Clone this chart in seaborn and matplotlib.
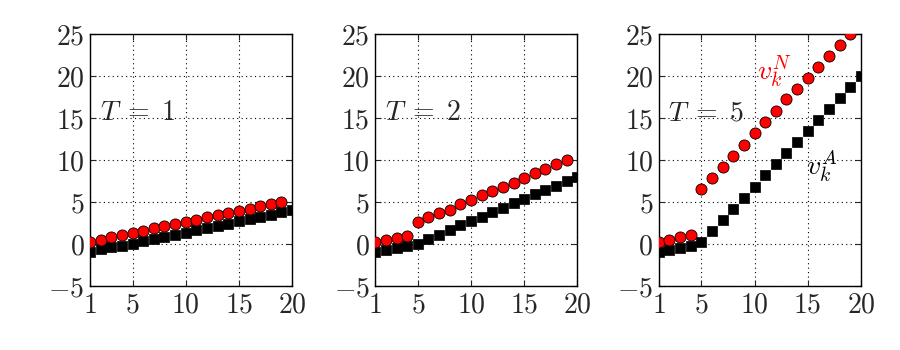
import matplotlib
matplotlib.use('Agg')
import matplotlib.pyplot as plt
import seaborn as sns

# step index k
k_a = list(range(1, 21))
k_n = list(range(1, 20))

# values, one pair of series per panel
va_T1 = [-0.9, -0.6, -0.4, -0.2, 0.05, 0.35, 0.6, 0.85, 1.1, 1.35, 1.65, 1.9, 2.15, 2.4, 2.7, 3.0, 3.25, 3.5, 3.75, 4.0]
vn_T1 = [0.28, 0.5, 0.8, 1.05, 1.35, 1.6, 1.85, 2.15, 2.4, 2.65, 2.9, 3.15, 3.45, 3.7, 3.95, 4.2, 4.5, 4.75, 5.0]

va_T2 = [-1.0, -0.75, -0.5, -0.28, 0.0, 0.55, 1.1, 1.65, 2.2, 2.75, 3.2, 3.8, 4.3, 4.85, 5.3, 5.95, 6.4, 6.95, 7.5, 8.0]
vn_T2 = [0.2, 0.45, 0.75, 1.0, 2.6, 3.15, 3.65, 4.1, 4.7, 5.2, 5.8, 6.3, 6.75, 7.3, 7.8, 8.4, 8.9, 9.5, 10.0]

va_T5 = [-0.95, -0.67, -0.44, -0.24, 0.28, 1.6, 2.9, 4.2, 5.5, 6.8, 8.2, 9.5, 10.8, 12.1, 13.45, 14.75, 16.1, 17.4, 18.7, 20.0]
vn_T5 = [0.28, 0.5, 0.83, 1.07, 6.55, 7.9, 9.2, 10.5, 11.8, 13.2, 14.5, 15.85, 17.2, 18.5, 19.8, 21.05, 22.4, 23.7, 25.0]

T_labels = [r'$T\;=\;1$', r'$T\;=\;2$', r'$T\;=\;5$']
xticks = [1, 5, 10, 15, 20]
yticks = [-5, 0, 5, 10, 15, 20, 25]

sns.set_style('white')
plt.rcParams['mathtext.fontset'] = 'cm'
plt.rcParams['font.family'] = ['DejaVu Serif']

fig = plt.figure(figsize=(9, 3.5), dpi=100)
lefts = [0.100, 0.417, 0.732]
panels = [(va_T1, vn_T1), (va_T2, vn_T2), (va_T5, vn_T5)]

for i, (va, vn) in enumerate(panels):
    ax = fig.add_axes([lefts[i], 0.183, 0.2245, 0.72])
    sns.scatterplot(x=k_a, y=va, marker='s', color='black', edgecolor='black',
                    s=56, linewidth=0.5, ax=ax, zorder=3)
    sns.scatterplot(x=k_n, y=vn, marker='o', color='red', edgecolor='black',
                    s=64, linewidth=0.6, ax=ax, zorder=4)
    ax.set_xlim(1, 20)
    ax.set_ylim(-5, 25)
    ax.set_xticks(xticks, labels=[f'${t}$' for t in xticks])
    ax.set_yticks(yticks, labels=[f'${t}$' for t in yticks])
    ax.tick_params(labelsize=20, direction='in', length=4, width=0.8,
                   top=True, right=True, bottom=True, left=True, pad=4)
    ax.grid(True, color='black', linestyle=(0, (1, 3)), linewidth=0.8)
    for sp in ax.spines.values():
        sp.set_color('black')
        sp.set_linewidth(1.0)
    ax.text(1.9, 15.6, T_labels[i], fontsize=20, ha='left', va='center')

    if i == 2:
        ax.text(10.2, 20.5, r'$v_k^N$', fontsize=20, color='red', ha='left', va='center')
        ax.text(14.8, 9.3, r'$v_k^A$', fontsize=20, color='black', ha='left', va='center')

plt.savefig('out.png', dpi=100)
